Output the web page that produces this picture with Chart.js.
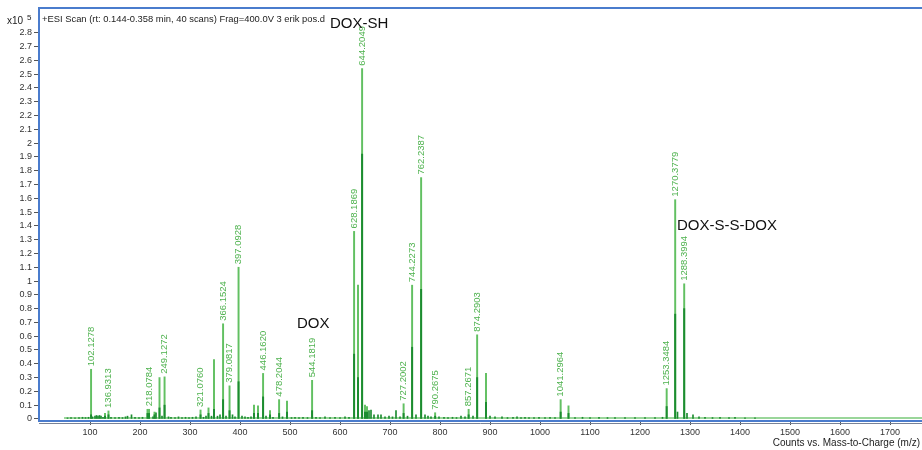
<!DOCTYPE html>
<html>
<head>
<meta charset="utf-8">
<script src="https://cdn.jsdelivr.net/npm/chart.js@4.4.0/dist/chart.umd.min.js"></script>
<style>
  html, body { margin: 0; padding: 0; background: #fff; }
</style>
</head>
<body>
<canvas id="spectrum" width="922" height="450"></canvas>
<script>
// labelled peaks: m/z, label, intensity (x10^5), height of the dark core
const peakMz = [102.1278, 136.9313, 218.0784, 249.1272, 321.0760, 366.1524, 379.0817, 397.0928,
  446.1620, 478.2044, 544.1819, 628.1869, 644.2049, 727.2002, 744.2273, 762.2387, 790.2675,
  857.2671, 874.2903, 1041.2964, 1253.3484, 1270.3779, 1288.3994];
const peakLabels = ['102.1278', '136.9313', '218.0784', '249.1272', '321.0760', '366.1524', '379.0817', '397.0928',
  '446.1620', '478.2044', '544.1819', '628.1869', '644.2049', '727.2002', '744.2273', '762.2387', '790.2675',
  '857.2671', '874.2903', '1041.2964', '1253.3484', '1270.3779', '1288.3994'];
const peakInt = [0.36, 0.058, 0.07, 0.305, 0.065, 0.69, 0.24, 1.10,
  0.33, 0.14, 0.28, 1.36, 2.54, 0.11, 0.97, 1.75, 0.045,
  0.07, 0.61, 0.14, 0.22, 1.59, 0.98];
const peakCore = [0.03, 0.03, 0.04, 0.10, 0.03, 0.14, 0.06, 0.27,
  0.16, 0.04, 0.06, 0.47, 1.92, 0.04, 0.52, 0.94, 0.02,
  0.03, 0.30, 0.05, 0.09, 0.76, 0.80];

// unlabelled peaks of some size
const otherMz = [130, 215, 229, 239, 337, 348, 428, 436, 460, 494, 636, 650, 654, 892, 1057];
const otherInt = [0.04, 0.07, 0.05, 0.30, 0.08, 0.43, 0.10, 0.095, 0.06, 0.13, 0.97, 0.10, 0.09, 0.33, 0.095];
const otherCore = [0.02, 0.04, 0.03, 0.08, 0.04, 0.07, 0.04, 0.04, 0.03, 0.05, 0.30, 0.05, 0.05, 0.12, 0.04];

// small peaks along the baseline
const minorMz = [55, 62, 70, 78, 85, 91, 97, 105, 110, 113, 116, 119, 122, 126, 142, 150, 158, 165, 171, 175,
  183, 190, 198, 205, 226, 232, 244, 257, 262, 270, 277, 284, 291, 298, 305, 312, 327, 332, 343, 355,
  360, 372, 385, 390, 404, 410, 416, 422, 452, 466, 485, 503, 510, 518, 526, 535, 552, 560, 570, 580,
  590, 600, 610, 618, 658, 662, 668, 676, 682, 690, 698, 705, 712, 720, 735, 752, 770, 776, 782, 798,
  808, 816, 825, 833, 842, 850, 866, 900, 910, 924, 935, 946, 954, 962, 970, 978, 988, 998, 1010, 1020,
  1030, 1070, 1085, 1100, 1118, 1135, 1150, 1170, 1190, 1210, 1230, 1245, 1275, 1294, 1306, 1318, 1330, 1345, 1360, 1378,
  1390, 1410, 1430];
const minorInt = [0.008, 0.01, 0.008, 0.01, 0.012, 0.01, 0.012, 0.015, 0.02, 0.025, 0.02, 0.025, 0.02, 0.012, 0.012, 0.01, 0.012, 0.01, 0.015, 0.02,
  0.03, 0.012, 0.01, 0.012, 0.015, 0.045, 0.02, 0.015, 0.012, 0.01, 0.015, 0.01, 0.012, 0.01, 0.012, 0.015, 0.012, 0.02, 0.02, 0.02,
  0.03, 0.02, 0.03, 0.015, 0.02, 0.015, 0.012, 0.015, 0.02, 0.012, 0.015, 0.01, 0.012, 0.01, 0.012, 0.01, 0.012, 0.01, 0.015, 0.01,
  0.012, 0.01, 0.015, 0.012, 0.06, 0.065, 0.03, 0.03, 0.03, 0.015, 0.02, 0.015, 0.06, 0.015, 0.02, 0.03, 0.03, 0.02, 0.015, 0.015,
  0.012, 0.01, 0.012, 0.01, 0.02, 0.015, 0.02, 0.02, 0.015, 0.015, 0.01, 0.012, 0.015, 0.01, 0.012, 0.01, 0.01, 0.012, 0.01, 0.012,
  0.01, 0.01, 0.012, 0.01, 0.012, 0.01, 0.01, 0.01, 0.01, 0.01, 0.01, 0.012, 0.05, 0.04, 0.03, 0.015, 0.012, 0.01, 0.012, 0.01,
  0.012, 0.008, 0.008];

const baselineMz = [48, 1764];
const baselineInt = [0.006, 0.006];

const xTicks = [100, 200, 300, 400, 500, 600, 700, 800, 900, 1000, 1100, 1200, 1300, 1400, 1500, 1600, 1700];
const yTicks = [0, 0.1, 0.2, 0.3, 0.4, 0.5, 0.6, 0.7, 0.8, 0.9, 1, 1.1, 1.2, 1.3, 1.4, 1.5, 1.6, 1.7, 1.8, 1.9,
  2, 2.1, 2.2, 2.3, 2.4, 2.5, 2.6, 2.7, 2.8];

const scanTitle = '+ESI Scan (rt: 0.144-0.358 min, 40 scans) Frag=400.0V 3 erik pos.d';
const xTitle = 'Counts vs. Mass-to-Charge (m/z)';
const notes = ['DOX-SH', 'DOX', 'DOX-S-S-DOX'];

const FONT = "'Liberation Sans', Arial, sans-serif";
const LIGHT = 'rgb(98,192,98)';
const DARK = 'rgb(28,140,48)';
const LABEL = 'rgb(78,178,78)';
const BLUE = 'rgb(74,124,205)';

const pts = (xs, ys) => xs.map((x, i) => ({ x: x, y: ys[i] }));

const decor = {
  id: 'decor',
  afterDatasetsDraw(chart) {
    const ctx = chart.ctx;
    const xs = chart.scales.x, ys = chart.scales.y;
    const area = chart.chartArea;
    ctx.save();

    // peak labels, rotated
    ctx.fillStyle = LABEL;
    ctx.font = '9.5px ' + FONT;
    ctx.textAlign = 'left';
    ctx.textBaseline = 'middle';
    peakMz.forEach((m, i) => {
      ctx.save();
      ctx.translate(xs.getPixelForValue(m), ys.getPixelForValue(peakInt[i]) - 3);
      ctx.rotate(-Math.PI / 2);
      ctx.fillText(peakLabels[i], 0, 0);
      ctx.restore();
    });

    // compound annotations
    ctx.fillStyle = '#111';
    ctx.font = '15px ' + FONT;
    ctx.textBaseline = 'alphabetic';
    ctx.fillText(notes[0], xs.getPixelForValue(580), ys.getPixelForValue(2.836));
    ctx.fillText(notes[1], xs.getPixelForValue(514), ys.getPixelForValue(0.662));
    ctx.fillText(notes[2], xs.getPixelForValue(1274), ys.getPixelForValue(1.367));

    // scan title
    ctx.fillStyle = '#222';
    ctx.font = '9.4px ' + FONT;
    ctx.fillText(scanTitle, area.left + 3, 22);

    ctx.restore();
  },
  afterDraw(chart) {
    const ctx = chart.ctx;
    const area = chart.chartArea;
    ctx.save();
    // top frame line
    ctx.strokeStyle = BLUE;
    ctx.lineWidth = 2;
    ctx.beginPath();
    ctx.moveTo(area.left - 1, area.top);
    ctx.lineTo(area.right, area.top);
    ctx.stroke();
    // grey line under the x axis
    ctx.strokeStyle = 'rgb(120,130,150)';
    ctx.lineWidth = 1;
    ctx.beginPath();
    ctx.moveTo(area.left, area.bottom + 2.5);
    ctx.lineTo(area.right, area.bottom + 2.5);
    ctx.stroke();

    // x10^5 multiplier
    ctx.fillStyle = '#222';
    ctx.font = '10px ' + FONT;
    ctx.textAlign = 'left';
    ctx.fillText('x10', 7, 24);
    ctx.font = '8px ' + FONT;
    ctx.fillText('5', 27, 20);

    // x axis title
    ctx.font = '10px ' + FONT;
    ctx.textAlign = 'right';
    ctx.fillText(xTitle, 920, 446);
    ctx.restore();
  }
};

new Chart(document.getElementById('spectrum'), {
  type: 'bar',
  data: {
    datasets: [
      {
        label: 'core',
        data: pts(peakMz, peakCore).concat(pts(otherMz, otherCore)),
        backgroundColor: DARK,
        barThickness: 1.3,
        grouped: false,
        order: 0
      },
      {
        label: 'minor',
        data: pts(minorMz, minorInt),
        backgroundColor: DARK,
        barThickness: 1,
        grouped: false,
        order: 1
      },
      {
        label: 'peaks',
        data: pts(peakMz, peakInt).concat(pts(otherMz, otherInt)),
        backgroundColor: LIGHT,
        barThickness: 1.3,
        grouped: false,
        order: 2
      },
      {
        type: 'line',
        label: 'baseline',
        data: pts(baselineMz, baselineInt),
        borderColor: 'rgb(120,200,120)',
        borderWidth: 1.5,
        pointRadius: 0,
        order: 3
      }
    ]
  },
  options: {
    responsive: false,
    animation: false,
    layout: { padding: { top: 8, left: 0, right: 0, bottom: 0 } },
    plugins: { legend: { display: false }, tooltip: { enabled: false } },
    scales: {
      x: {
        type: 'linear',
        offset: false,
        min: -2,
        max: 1764,
        afterFit: (s) => { s.height = 29; },
        afterBuildTicks: (s) => { s.ticks = xTicks.map(v => ({ value: v })); },
        grid: { display: true, offset: false, drawOnChartArea: false, tickLength: 4, tickColor: '#555' },
        border: { display: true, color: BLUE, width: 2 },
        ticks: {
          color: '#333', padding: 2, maxRotation: 0, autoSkip: false, font: { family: FONT, size: 9 },
          callback: (v) => String(v)
        }
      },
      y: {
        min: -0.015,
        max: 2.98,
        afterFit: (s) => { s.width = 39; },
        afterBuildTicks: (s) => { s.ticks = yTicks.map(v => ({ value: v })); },
        grid: { display: true, drawOnChartArea: false, tickLength: 5, tickColor: '#555' },
        border: { display: true, color: BLUE, width: 2 },
        ticks: {
          color: '#333', padding: 2, autoSkip: false, font: { family: FONT, size: 9 },
          callback: (v) => String(+v.toFixed(1))
        }
      }
    }
  },
  plugins: [decor]
});
</script>
</body>
</html>
